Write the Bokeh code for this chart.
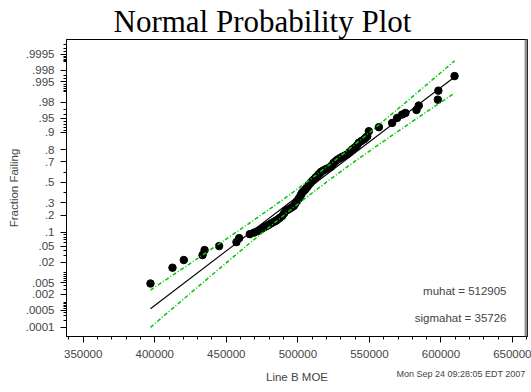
import numpy as np
from statistics import NormalDist
from bokeh.plotting import figure
from bokeh.models import Range1d, FixedTicker, Label, Span, LinearAxis
from bokeh.embed import file_html
from bokeh.resources import INLINE

# ---- data ----
moe = [397000, 412400, 420300, 433400, 434800, 445000, 457100, 459000, 466400,
       469500, 472300, 474300, 476200, 478000, 479700, 481400, 483200, 484500,
       485600, 487300, 489100, 490300, 491400, 492500, 493700, 495500, 497200,
       498300, 499500, 500700, 501800, 502400, 503000, 504200, 505300, 506500,
       507600, 508800, 510000, 511200, 512300, 513500, 514600, 515500, 516300,
       517800, 519300, 521000, 522800, 524000, 525100, 526500, 527900, 529500,
       531000, 532800, 534500, 536200, 538000, 539200, 540300, 541500, 542600,
       544300, 546100, 547300, 548500, 549600, 556600,
       565900, 569400, 572900, 575200, 582900, 584500, 597800, 598200, 609500]
fraction_failing = [.0047, .0142, .0230, .0309, .0410, .0508, .0624, .0760, .0917,
                    .0985, .1064, .1140, .1228, .1300, .1374, .1460, .1549, .1610,
                    .1675, .1800, .1943, .2120, .2314, .2380, .2448, .2580, .2722,
                    .2940, .3162, .3400, .3631, .3790, .3951, .4120, .4290, .4510,
                    .4725, .4930, .5133, .5300, .5469, .5640, .5811, .5940, .6068,
                    .6190, .6303, .6410, .6522, .6720, .6920, .7070, .7218, .7330,
                    .7438, .7540, .7631, .7820, .8007, .8090, .8167, .8310, .8445,
                    .8550, .8643, .8730, .8818, .9053, .9215,
                    .9364, .9508, .9590, .9625, .9684, .9756, .9831, .9907, .9968]
muhat = 512905
sigmahat = 35726
n_obs = 105
z_crit = 1.96
timestamp = "Mon Sep 24 09:28:05 EDT 2007"

x_ticks = [350000, 400000, 450000, 500000, 550000, 600000, 650000]
y_tick_probs = [.0001, .0005, .002, .005, .02, .05, .1, .2, .3, .5, .7, .8, .9,
                .95, .98, .995, .998, .9995]
y_tick_labels = [".0001", ".0005", ".002", ".005", ".02", ".05", ".1", ".2", ".3",
                 ".5", ".7", ".8", ".9", ".95", ".98", ".995", ".998", ".9995"]
y_minor_probs = ([k * 1e-4 for k in range(1, 10)] + [k * 1e-3 for k in range(1, 10)]
                 + [k * 1e-2 for k in range(1, 10)] + [k * 0.1 for k in range(1, 10)]
                 + [0.9 + k * 1e-2 for k in range(1, 10)]
                 + [0.99 + k * 1e-3 for k in range(1, 10)]
                 + [0.999 + k * 1e-4 for k in range(1, 9)])

nd = NormalDist()
zq = nd.inv_cdf
z_pts = [zq(q) for q in fraction_failing]

x_start, x_end = 338330, 660480
p = figure(width=531, height=392, output_backend="svg", toolbar_location=None,
           title="Normal Probability Plot",
           x_range=Range1d(x_start, x_end), y_range=Range1d(-3.958, 3.666),
           min_border_left=66, min_border_right=4, min_border_top=38,
           min_border_bottom=56)
p.xgrid.visible = False
p.ygrid.visible = False
p.outline_line_color = "black"
p.outline_line_width = 1
p.background_fill_color = "white"
p.border_fill_color = "white"

p.title.align = "left"
p.title.offset = 47
p.title.text_font = "Liberation Serif"
p.title.text_font_size = "31px"
p.title.text_font_style = "normal"
p.title.text_color = "black"
p.title.standoff = 2

font = "Liberation Sans"
# x axis
xa = p.xaxis[0]
xa.ticker = FixedTicker(ticks=x_ticks,
                        minor_ticks=list(range(340000, 660001, 10000)))
xa.major_label_overrides = {t: str(t) for t in x_ticks}
xa.major_label_text_font = font
xa.major_label_text_font_size = "11.5px"
xa.major_label_standoff = 7
xa.major_tick_out = 6
xa.major_tick_in = 0
xa.minor_tick_out = 3
xa.minor_tick_in = 0
xa.axis_line_color = "black"

# second bottom axis carries the axis title and the time stamp
ts_pos = 614000
xb = LinearAxis(ticker=FixedTicker(ticks=[ts_pos], minor_ticks=[]),
                major_label_overrides={ts_pos: timestamp},
                axis_line_color=None, major_tick_line_color=None,
                minor_tick_line_color=None, major_tick_out=0, major_tick_in=0,
                minor_tick_out=0, minor_tick_in=0,
                major_label_text_font=font, major_label_text_font_size="9px",
                major_label_standoff=8,
                axis_label="Line B MOE", axis_label_text_font=font,
                axis_label_text_font_size="11.5px",
                axis_label_text_font_style="normal",
                axis_label_standoff=-11)
p.add_layout(xb, "below")

# y axis (normal probability scale)
ya = p.yaxis[0]
y_major = [zq(q) for q in y_tick_probs]
y_minor = [zq(q) for q in y_minor_probs]
ya.ticker = FixedTicker(ticks=y_major, minor_ticks=y_minor)
ya.major_label_overrides = {t: lab for t, lab in zip(y_major, y_tick_labels)}
ya.axis_label = "Fraction Failing"
ya.axis_label_text_font = font
ya.axis_label_text_font_size = "11.5px"
ya.axis_label_text_font_style = "normal"
ya.axis_label_standoff = 3
ya.major_label_text_font = font
ya.major_label_text_font_size = "11.5px"
ya.major_label_standoff = 6
ya.major_tick_out = 6
ya.major_tick_in = 0
ya.minor_tick_out = 3
ya.minor_tick_in = 0
ya.axis_line_color = "black"

# data points
p.scatter(moe, z_pts, size=7.5, color="black")

# fitted line and confidence bands
x_lo, x_hi = min(moe), max(moe)
p.line([x_lo, x_hi], [(x_lo - muhat) / sigmahat, (x_hi - muhat) / sigmahat],
       line_color="black", line_width=1.1)
xg = np.linspace(x_lo, x_hi, 80)
zg = (xg - muhat) / sigmahat
hw = z_crit * np.sqrt((1 + zg ** 2 / 2) / n_obs)
for band in (zg + hw, zg - hw):
    p.line(xg, band, line_color="#00c800", line_width=1.5, line_dash="4 2 1 2")

# gray right border
p.add_layout(Span(location=x_end - 1000, dimension="height",
                  line_color="#909090", line_width=3))

# fit summary texts
p.add_layout(Label(x=440, y=46, x_units="screen", y_units="screen",
                   text="muhat = %d" % muhat, text_font=font,
                   text_font_size="11.5px", text_align="right",
                   text_baseline="middle"))
p.add_layout(Label(x=440, y=19, x_units="screen", y_units="screen",
                   text="sigmahat = %d" % sigmahat, text_font=font,
                   text_font_size="11.5px", text_align="right",
                   text_baseline="middle"))

open("out.html", "w").write(file_html(p, INLINE))
